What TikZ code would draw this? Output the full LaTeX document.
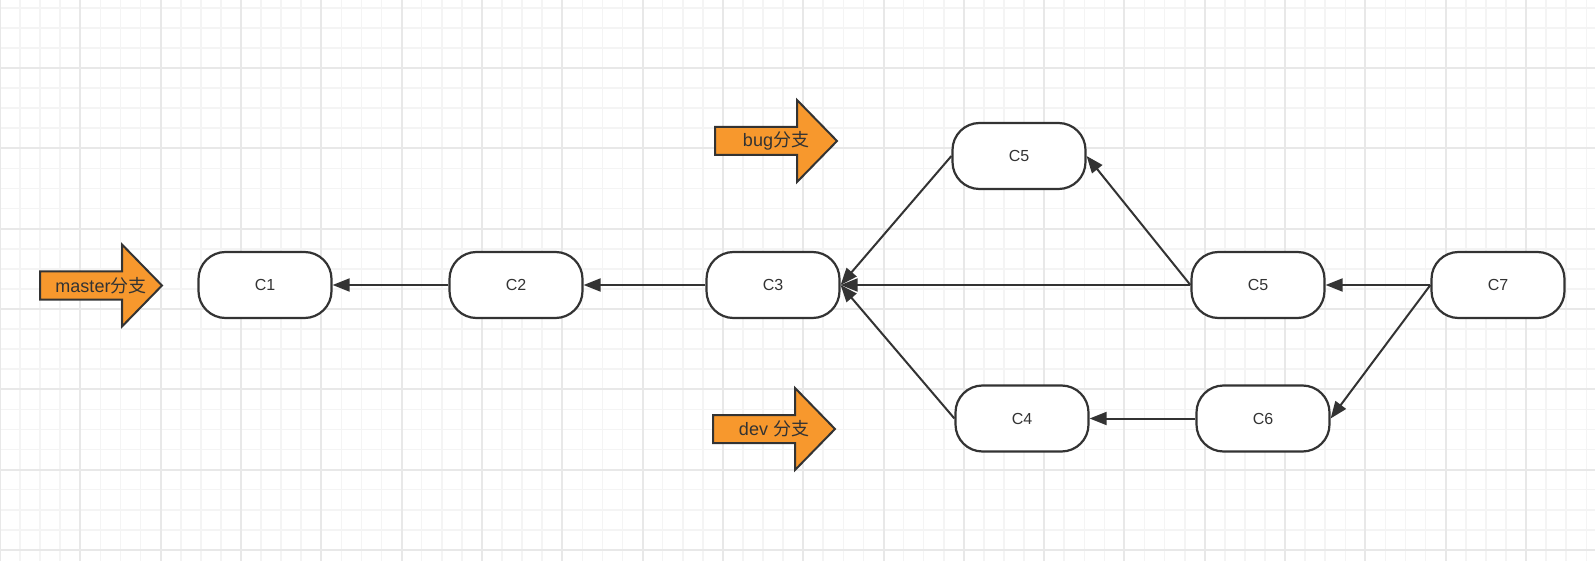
\documentclass[tikz,border=0pt]{standalone}
\usepackage{fontspec}
\setmainfont{Liberation Sans}
\newfontfamily\cjk{Noto Sans CJK SC}
\usetikzlibrary{arrows.meta}
\definecolor{gridminor}{RGB}{244,244,244}
\definecolor{gridmajor}{RGB}{232,232,232}
\definecolor{branchorange}{RGB}{247,152,45}
\definecolor{linegray}{RGB}{51,51,51}
\tikzset{
	commit/.style={draw=linegray,line width=2.2pt,fill=white,rounded corners=27pt,
		minimum width=133pt,minimum height=66pt,text=linegray,font=\fontsize{16}{19}\selectfont},
	link/.style={draw=linegray,line width=2pt,-{Triangle[length=17pt,width=13pt]}},
	branchbody/.style={draw=linegray,line width=2pt,fill=branchorange,line join=miter},
	branchlabel/.style={inner sep=0pt,text=linegray,font=\fontsize{18}{21}\selectfont}
}
\begin{document}
\begin{tikzpicture}[x=1pt,y=-1pt]
		\useasboundingbox (0,0) rectangle (1595,561);
		\fill[white] (0,0) rectangle (1595,561);
		% grid paper
		\foreach \i in {0,...,79} \draw[gridminor,line width=1.6pt] (\i*20.08,0) -- (\i*20.08,561);
		\foreach \j in {0,...,27} \draw[gridminor,line width=1.6pt] (0,7.76+\j*20.08) -- (1595,7.76+\j*20.08);
		\foreach \i in {0,...,19} \draw[gridmajor,line width=2pt] (\i*80.32,0) -- (\i*80.32,561);
		\foreach \j in {0,...,6} \draw[gridmajor,line width=2pt] (0,68+\j*80.32) -- (1595,68+\j*80.32);
		% commits
		\node[commit] (c1) at (265,285) {C1};
		\node[commit] (c2) at (516,285) {C2};
		\node[commit] (c3) at (773,285) {C3};
		\node[commit] (c5b) at (1019,156) {C5};
		\node[commit] (c5) at (1258,285) {C5};
		\node[commit] (c7) at (1498,285) {C7};
		\node[commit] (c4) at (1022,418.5) {C4};
		\node[commit] (c6) at (1263,418.5) {C6};
		% branch labels
		\foreach \bx/\by in {40/285.5, 715/141, 713/429}
			\draw[branchbody,shift={(\bx,\by)}] (0,-14) -- (82,-14) -- (82,-41) -- (122,0)
				-- (82,41) -- (82,14) -- (0,14) -- cycle;
		\node[branchlabel] (master) at (101,285.5) {master{\cjk 分支}};
		\node[branchlabel] (bug) at (776,141) {bug{\cjk 分支}};
		\node[branchlabel] (dev) at (774,429) {dev {\cjk 分支}};
		% parents
		\draw[link] (c2.west) -- (c1.east);
		\draw[link] (c3.west) -- (c2.east);
		\draw[link] (c5b.west) -- (c3.east);
		\draw[link] (c5.west) -- (c3.east);
		\draw[link] (c4.west) -- (c3.east);
		\draw[link] (c5.west) -- (c5b.east);
		\draw[link] (c6.west) -- (c4.east);
		\draw[link] (c7.west) -- (c5.east);
		\draw[link] (c7.west) -- (c6.east);
	\end{tikzpicture}
\end{document}
